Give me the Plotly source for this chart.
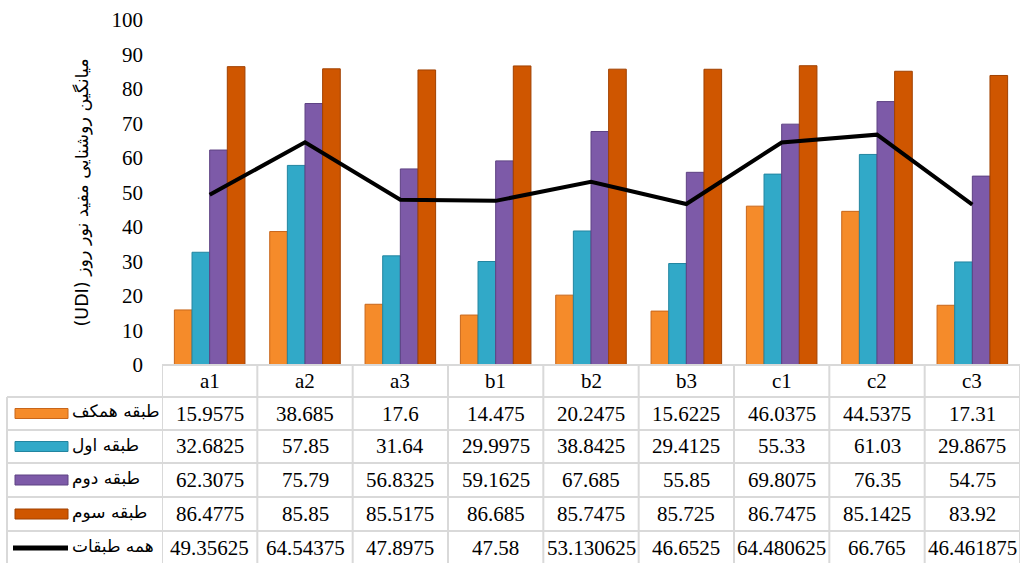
import plotly.graph_objects as go

categories = ["a1", "a2", "a3", "b1", "b2", "b3", "c1", "c2", "c3"]
series_names = ["طبقه همکف", "طبقه اول", "طبقه دوم", "طبقه سوم"]
line_name = "همه طبقات"
ground = [15.9575, 38.685, 17.6, 14.475, 20.2475, 15.6225, 46.0375, 44.5375, 17.31]
first = [32.6825, 57.85, 31.64, 29.9975, 38.8425, 29.4125, 55.33, 61.03, 29.8675]
second = [62.3075, 75.79, 56.8325, 59.1625, 67.685, 55.85, 69.8075, 76.35, 54.75]
third = [86.4775, 85.85, 85.5175, 86.685, 85.7475, 85.725, 86.7475, 85.1425, 83.92]
all_floors = [49.35625, 64.54375, 47.8975, 47.58, 53.130625, 46.6525, 64.480625, 66.765, 46.461875]
y_title = "(UDI) میانگین روشنایی مفید نور روز"

bar_series = [ground, first, second, third]
colors = ["#F58B2A", "#31A9C8", "#7D5AA8", "#CF5600"]
edges = ["#C8661A", "#2285A0", "#5E4283", "#A04000"]

W, H = 1021, 563
L, R, T, B = 162, 1, 20, 198
pw = W - L - R
ph = H - T - B

def px_x(px):
    return (px - L) / pw

def px_y(py):
    return (H - B - py) / ph

fig = go.Figure()
for name, vals, c, e in zip(series_names, bar_series, colors, edges):
    fig.add_trace(go.Bar(x=categories, y=vals, name=name, marker=dict(color=c, line=dict(color=e, width=1))))
fig.add_trace(go.Scatter(x=categories, y=all_floors, name=line_name, mode="lines",
                         line=dict(color="black", width=4)))

shapes = []
annotations = []
grid = "#D9D9D9"
row_lines = [397, 430, 463, 497, 531, 565]
row_centers = [413.5, 446.5, 480, 514, 548]
shapes.append(dict(type="line", xref="paper", yref="paper", x0=0, x1=1, y0=px_y(365), y1=px_y(365),
                   line=dict(color=grid, width=2)))
for ry in row_lines:
    shapes.append(dict(type="line", xref="paper", yref="paper", x0=px_x(7), x1=1, y0=px_y(ry), y1=px_y(ry),
                       line=dict(color=grid, width=2)))
shapes.append(dict(type="line", xref="paper", yref="paper", x0=px_x(7), x1=px_x(7), y0=px_y(397), y1=px_y(565),
                   line=dict(color=grid, width=2)))
for i in range(len(categories) + 1):
    shapes.append(dict(type="line", xref="x", yref="paper", x0=i - 0.5, x1=i - 0.5, y0=px_y(365), y1=px_y(565),
                       line=dict(color=grid, width=2)))

tfont = dict(family="Liberation Serif", size=21, color="black")
for i, cat in enumerate(categories):
    annotations.append(dict(xref="x", yref="paper", x=cat, y=px_y(381), text=cat, showarrow=False,
                            font=tfont, xanchor="center", yanchor="middle"))
table_rows = bar_series + [all_floors]
for r, vals in enumerate(table_rows):
    for cat, v in zip(categories, vals):
        annotations.append(dict(xref="x", yref="paper", x=cat, y=px_y(row_centers[r]), text=str(v),
                                showarrow=False, font=tfont, xanchor="center", yanchor="middle"))

labels = series_names + [line_name]
for r, lab in enumerate(labels):
    cy = row_centers[r]
    if r < 4:
        shapes.append(dict(type="rect", xref="paper", yref="paper", x0=px_x(15), x1=px_x(68),
                           y0=px_y(cy - 5), y1=px_y(cy + 5), fillcolor=colors[r],
                           line=dict(color=edges[r], width=1)))
    else:
        shapes.append(dict(type="line", xref="paper", yref="paper", x0=px_x(13), x1=px_x(68),
                           y0=px_y(cy), y1=px_y(cy), line=dict(color="black", width=5)))
    annotations.append(dict(xref="paper", yref="paper", x=px_x(70), y=px_y(cy - 2), text=lab, showarrow=False,
                            font=dict(family="DejaVu Sans", size=17, color="black"),
                            xanchor="left", yanchor="middle"))

annotations.append(dict(xref="paper", yref="paper", x=px_x(82), y=0.5, text=y_title, textangle=-90,
                        showarrow=False, font=dict(family="DejaVu Sans", size=17.5, color="black"),
                        xanchor="center", yanchor="middle"))

fig.update_layout(
    width=W, height=H,
    margin=dict(l=L, r=R, t=T, b=B, pad=0),
    plot_bgcolor="white", paper_bgcolor="white",
    barmode="group", bargap=0.26, bargroupgap=0.0,
    showlegend=False,
    shapes=shapes, annotations=annotations,
    xaxis=dict(showticklabels=False, ticks="", showgrid=False, zeroline=False, showline=False,
               range=[-0.5, len(categories) - 0.5]),
    yaxis=dict(range=[0, 100], dtick=10, showgrid=False, zeroline=False, showline=False,
               tickfont=dict(family="Liberation Serif", size=21, color="black"),
               ticklabelstandoff=18, ticks=""),
)

fig.write_html("out.html")
